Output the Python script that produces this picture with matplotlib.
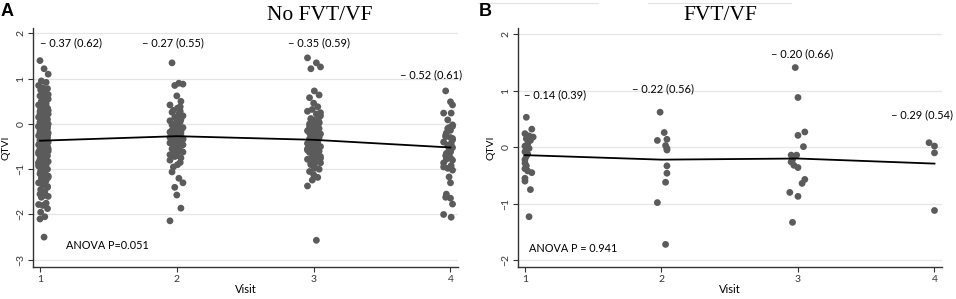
import matplotlib
matplotlib.use("Agg")
import matplotlib.pyplot as plt
from matplotlib.lines import Line2D

# ---------------- data ----------------
visits = [1, 2, 3, 4]

# Panel A: No FVT/VF
a_v1 = [1.40, 1.22, 1.10, 0.95, 0.92, 0.85, 0.80, 0.78, 0.75, 0.70, 0.62, 0.58,
        0.55, 0.50, 0.45, 0.42, 0.38, 0.35, 0.32, 0.30, 0.27, 0.25, 0.22, 0.20,
        0.18, 0.15, 0.12, 0.10, 0.08, 0.06, 0.04, 0.02, 0.00, -0.02, -0.04,
        -0.06, -0.08, -0.10, -0.12, -0.14, -0.16, -0.18, -0.20, -0.22, -0.24,
        -0.26, -0.28, -0.30, -0.32, -0.34, -0.36, -0.38, -0.40, -0.42, -0.44,
        -0.46, -0.48, -0.50, -0.52, -0.54, -0.56, -0.58, -0.60, -0.62, -0.64,
        -0.66, -0.68, -0.70, -0.72, -0.75, -0.78, -0.80, -0.83, -0.86, -0.90,
        -0.93, -0.96, -1.00, -1.04, -1.08, -1.10, -1.12, -1.15, -1.20, -1.25,
        -1.30, -1.35, -1.40, -1.45, -1.50, -1.55, -1.58, -1.60, -1.62, -1.75,
        -1.78, -1.80, -1.87, -1.95, -2.05, -2.10, -2.50,
        0.30, 0.15, 0.05, -0.05, -0.15, -0.25, -0.33, -0.37, -0.41, -0.45,
        -0.55, -0.65, -0.75, -0.85, -0.95, -0.05, 0.10, 0.25, 0.40, -1.05,
        -1.18, -0.28, -0.48, -0.62, -0.12, -0.02, 0.07, 0.13, 0.21, -0.31,
        0.65, 0.48, -0.70, -0.88, -1.28, -1.38, -0.58, -0.44, -0.20, 0.00]
a_v2 = [1.35, 0.90, 0.88, 0.85, 0.62, 0.50, 0.42, 0.38, 0.35, 0.30, 0.26, 0.22,
        0.18, 0.15, 0.12, 0.10, 0.07, 0.05, 0.02, 0.00, -0.02, -0.05, -0.08,
        -0.10, -0.12, -0.15, -0.18, -0.20, -0.22, -0.25, -0.27, -0.30, -0.32,
        -0.35, -0.38, -0.40, -0.42, -0.45, -0.48, -0.50, -0.55, -0.58, -0.62,
        -0.65, -0.70, -0.75, -0.80, -0.85, -0.90, -0.95, -1.06, -1.20, -1.30,
        -1.40, -1.57, -1.86, -2.14,
        0.20, 0.08, -0.04, -0.14, -0.24, -0.34, -0.44, -0.52, -0.60, -0.68,
        0.28, -0.06, -0.16, -0.28, -0.36, -0.46, -0.72, 0.00, -0.20, -0.30]
a_v3 = [1.46, 1.35, 1.26, 1.22, 0.73, 0.64, 0.58, 0.46, 0.38, 0.32, 0.28, 0.22,
        0.18, 0.12, 0.08, 0.04, 0.00, -0.04, -0.08, -0.12, -0.15, -0.18, -0.22,
        -0.25, -0.28, -0.30, -0.33, -0.36, -0.38, -0.40, -0.43, -0.46, -0.50,
        -0.53, -0.56, -0.60, -0.63, -0.66, -0.70, -0.74, -0.78, -0.82, -0.86,
        -0.90, -0.95, -1.00, -1.05, -1.12, -1.18, -1.24, -1.37, -2.57,
        0.25, 0.10, -0.02, -0.10, -0.20, -0.32, -0.42, -0.48, -0.58, -0.68,
        -0.76, -0.84, -0.92, 0.15, -0.06, -0.26, -0.35, -0.45, -0.55, -0.65,
        -0.72, -0.88, -0.98, 0.02, -0.16, -0.38]
a_v4 = [0.73, 0.49, 0.42, 0.24, 0.24, 0.09, -0.02, -0.08, -0.14, -0.20, -0.25,
        -0.30, -0.35, -0.40, -0.44, -0.48, -0.52, -0.56, -0.60, -0.65, -0.70,
        -0.75, -0.80, -0.86, -0.92, -0.98, -1.02, -1.17, -1.30, -1.55, -1.62,
        -1.64, -1.77, -2.00, -2.06,
        -0.10, -0.32, -0.46, -0.62, -0.78, -0.28, -0.54, -0.05, -0.95]
a_vals = [a_v1, a_v2, a_v3, a_v4]
a_means = [-0.37, -0.27, -0.35, -0.52]
a_sds = [0.62, 0.55, 0.59, 0.61]
a_anova = "ANOVA P=0.051"

# Panel B: FVT/VF
b_v1 = [0.53, 0.32, 0.24, 0.20, 0.18, 0.15, 0.12, 0.06, 0.02, -0.02, -0.08,
        -0.12, -0.16, -0.22, -0.28, -0.33, -0.38, -0.42, -0.45, -0.55, -0.60,
        -0.75, -1.23]
b_x1 = [1.01, 1.05, 1.00, 1.03, 1.06, 1.01, 1.04, 1.02, 1.00, 1.03, 1.00,
        1.02, 1.01, 1.00, 1.00, 1.01, 1.00, 1.02, 1.05, 1.00, 1.00, 1.04, 1.03]
b_v2 = [0.62, 0.26, 0.12, 0.14, 0.03, -0.02, -0.05, -0.33, -0.46, -0.62,
        -0.98, -1.72]
b_x2 = [1.99, 2.02, 1.97, 2.04, 2.03, 2.04, 2.04, 2.04, 2.04, 2.03,
        1.97, 2.03]
b_v3 = [1.41, 0.88, 0.21, 0.27, 0.01, -0.14, -0.14, -0.22, -0.26, -0.32,
        -0.36, -0.57, -0.64, -0.80, -0.87, -1.33]
b_x3 = [2.98, 3.00, 3.00, 3.05, 3.04, 2.95, 2.99, 2.96, 2.95, 2.97,
        3.00, 3.05, 3.03, 2.94, 3.00, 2.96]
b_v4 = [0.08, 0.02, -0.10, -1.12]
b_x4 = [3.96, 4.00, 4.00, 4.00]
b_vals = [b_v1, b_v2, b_v3, b_v4]
b_xs = [b_x1, b_x2, b_x3, b_x4]
b_means = [-0.14, -0.22, -0.20, -0.29]
b_sds = [0.39, 0.56, 0.66, 0.54]
b_anova = "ANOVA P = 0.941"

# jitter offsets (panel A), cycled
a_jitter = [[0.00, 0.03, 0.06, 0.01, 0.045, -0.01, 0.02, 0.055, 0.005, 0.035],
            [-0.035, 0.015, 0.045, -0.015, 0.00, 0.03, -0.05, 0.025, 0.005, -0.025],
            [-0.045, 0.02, 0.05, -0.02, 0.005, 0.04, -0.03, 0.00, 0.03, -0.01],
            [-0.035, 0.00, 0.015, -0.05, 0.005, -0.02, 0.015, -0.01, 0.00, -0.03]]

# ---------------- figure ----------------
SANS = ["Lato", "DejaVu Sans"]
plt.rcParams["font.family"] = SANS
DOT = "#5b5b5b"
GRID = "#e6e6e6"
SPINE = "#333333"

fig = plt.figure(figsize=(9.56, 2.99), dpi=100)

def px_axes(x0, y0, x1, y1):
    W, H = 956, 299
    return fig.add_axes([x0 / W, 1 - y1 / H, (x1 - x0) / W, (y1 - y0) / H])

def style(ax, ylim, yticks):
    ax.set_xlim(0.949, 4.055)
    ax.set_ylim(*ylim)
    ax.set_xticks(visits)
    ax.set_yticks(yticks)
    for y in yticks:
        ax.axhline(y, color=GRID, lw=0.9, zorder=0)
    for s in ["top", "right"]:
        ax.spines[s].set_visible(False)
    for s in ["left", "bottom"]:
        ax.spines[s].set_color(SPINE)
        ax.spines[s].set_linewidth(1.0)
    ax.tick_params(axis="both", colors=SPINE, labelsize=7.5, length=3.5,
                   width=0.8, pad=2)
    for lbl in ax.get_yticklabels():
        lbl.set_rotation(90)
        lbl.set_va("center")
    ax.set_ylabel("QTVI", fontsize=7.5, labelpad=4)
    ax.set_xlabel("Visit", fontsize=8, labelpad=0)

def lab(m, s):
    return f"\u2212 {abs(m):.2f} ({s:.2f})"

MS = 24

# Panel A
axA = px_axes(33, 28, 458, 267)
for i, vals in enumerate(a_vals):
    jit = a_jitter[i]
    xs = [visits[i] + jit[k % len(jit)] for k in range(len(vals))]
    axA.scatter(xs, vals, s=MS, color=DOT, edgecolors="none", zorder=2)
axA.plot(visits, a_means, color="black", lw=1.3, zorder=3)
style(axA, (-3.16, 2.12), [-3, -2, -1, 0, 1, 2])
a_lab_pos = [(1.23, 1.79), (1.97, 1.79), (3.04, 1.79), (3.86, 1.08)]
for (x, y), m, s in zip(a_lab_pos, a_means, a_sds):
    axA.text(x, y, lab(m, s), ha="center", va="center", fontsize=7.9)
axA.text(1.19, -2.68, a_anova, ha="left", va="center", fontsize=7.8)

# Panel B
axB = px_axes(518, 28, 942, 267)
for i, vals in enumerate(b_vals):
    axB.scatter(b_xs[i], vals, s=MS, color=DOT, edgecolors="none", zorder=2)
axB.plot(visits, b_means, color="black", lw=1.3, zorder=3)
style(axB, (-2.12, 2.11), [-2, -1, 0, 1, 2])
b_lab_pos = [(1.22, 0.92), (2.01, 1.03), (3.03, 1.66), (3.91, 0.57)]
for (x, y), m, s in zip(b_lab_pos, b_means, b_sds):
    axB.text(x, y, lab(m, s), ha="center", va="center", fontsize=7.9)
axB.text(1.03, -1.80, b_anova, ha="left", va="center", fontsize=7.8)

# titles and panel letters
fig.text(320 / 956, 1 - 16 / 299, "No FVT/VF", ha="center", va="center",
         fontsize=15.5, family=["Liberation Serif", "DejaVu Serif"])
fig.text(720 / 956, 1 - 16 / 299, "FVT/VF", ha="center", va="center",
         fontsize=15.5, family=["Liberation Serif", "DejaVu Serif"])
fig.text(1 / 956, 1 - 11 / 299, "A", ha="left", va="center", fontsize=13,
         fontweight="bold", family=["Liberation Sans", "DejaVu Sans"])
fig.text(479 / 956, 1 - 11 / 299, "B", ha="left", va="center", fontsize=13,
         fontweight="bold", family=["Liberation Sans", "DejaVu Sans"])

# faint header rules above panel B
for x0, x1 in [(478, 598), (648, 791)]:
    fig.add_artist(Line2D([x0 / 956, x1 / 956], [1 - 3 / 299, 1 - 3 / 299],
                          color="#e4e4e4", lw=0.8))

fig.savefig("out.png", dpi=100)
